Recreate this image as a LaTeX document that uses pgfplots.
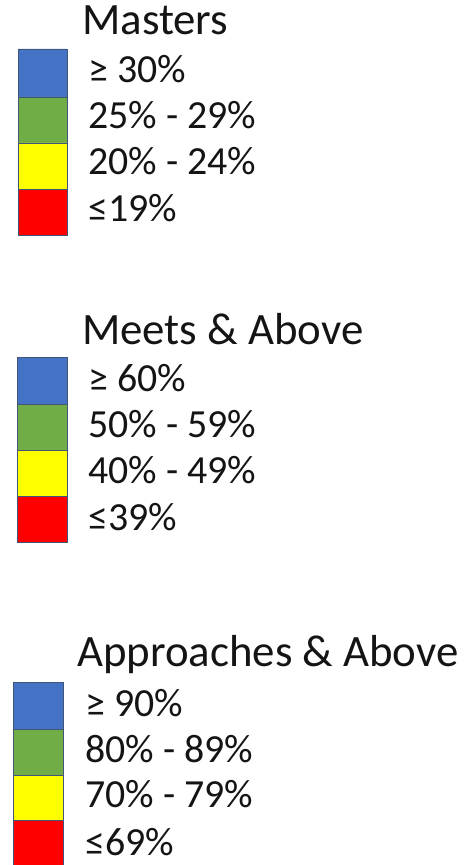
\documentclass[border=0pt]{standalone}
\usepackage{pgfplots}
\pgfplotsset{compat=1.18}
\usepackage{fontspec}
\setmainfont{Carlito}
\definecolor{cblue}{RGB}{68,114,196}
\definecolor{cgreen}{RGB}{112,173,71}
\definecolor{cyellow}{RGB}{255,255,0}
\definecolor{cred}{RGB}{255,0,0}
\definecolor{cedge}{RGB}{65,85,120}
\definecolor{ctext}{RGB}{20,20,20}
\begin{document}
\begin{tikzpicture}[
  swatch/.style={draw=cedge, line width=0.8bp},
  ttl/.style={anchor=base west, inner sep=0pt, text=ctext, font=\fontsize{45}{52}\selectfont},
  itm/.style={anchor=base west, inner sep=0pt, text=ctext, font=\fontsize{40}{47}\selectfont},
]
\begin{axis}[
  width=474bp, height=865bp, scale only axis,
  xmin=0, xmax=474, ymin=0, ymax=865, y dir=reverse,
  axis lines=box, axis line style={draw=none}, ticks=none,
  clip=true,
]
% Masters
\addplot[swatch, fill=cblue]   coordinates {(18,49) (67,49) (67,97) (18,97) (18,49)};
\addplot[swatch, fill=cgreen]  coordinates {(18,97) (67,97) (67,143) (18,143) (18,97)};
\addplot[swatch, fill=cyellow] coordinates {(18,143) (67,143) (67,189) (18,189) (18,143)};
\addplot[swatch, fill=cred]    coordinates {(18,189) (67,189) (67,235) (18,235) (18,189)};
\node[ttl] at (axis cs:82,35) {Masters};
\node[itm] at (axis cs:88,83) {≥ 30\%};
\node[itm] at (axis cs:88,129) {25\% - 29\%};
\node[itm] at (axis cs:88,175) {20\% - 24\%};
\node[itm] at (axis cs:88,221) {≤19\%};
% Meets & Above
\addplot[swatch, fill=cblue]   coordinates {(17,357) (67,357) (67,404) (17,404) (17,357)};
\addplot[swatch, fill=cgreen]  coordinates {(17,404) (67,404) (67,450) (17,450) (17,404)};
\addplot[swatch, fill=cyellow] coordinates {(17,450) (67,450) (67,496) (17,496) (17,450)};
\addplot[swatch, fill=cred]    coordinates {(17,496) (67,496) (67,542) (17,542) (17,496)};
\node[ttl] at (axis cs:82,344) {Meets \& Above};
\node[itm] at (axis cs:88,391) {≥ 60\%};
\node[itm] at (axis cs:88,437) {50\% - 59\%};
\node[itm] at (axis cs:88,483) {40\% - 49\%};
\node[itm] at (axis cs:88,530) {≤39\%};
% Approaches & Above
\addplot[swatch, fill=cblue]   coordinates {(13,682) (63,682) (63,729) (13,729) (13,682)};
\addplot[swatch, fill=cgreen]  coordinates {(13,729) (63,729) (63,775) (13,775) (13,729)};
\addplot[swatch, fill=cyellow] coordinates {(13,775) (63,775) (63,820) (13,820) (13,775)};
\addplot[swatch, fill=cred]    coordinates {(13,820) (63,820) (63,870) (13,870) (13,820)};
\node[ttl] at (axis cs:77,666) {Approaches \& Above};
\node[itm] at (axis cs:85,716) {≥ 90\%};
\node[itm] at (axis cs:85,762) {80\% - 89\%};
\node[itm] at (axis cs:85,807) {70\% - 79\%};
\node[itm] at (axis cs:85,855) {≤69\%};
\end{axis}
\end{tikzpicture}
\end{document}
